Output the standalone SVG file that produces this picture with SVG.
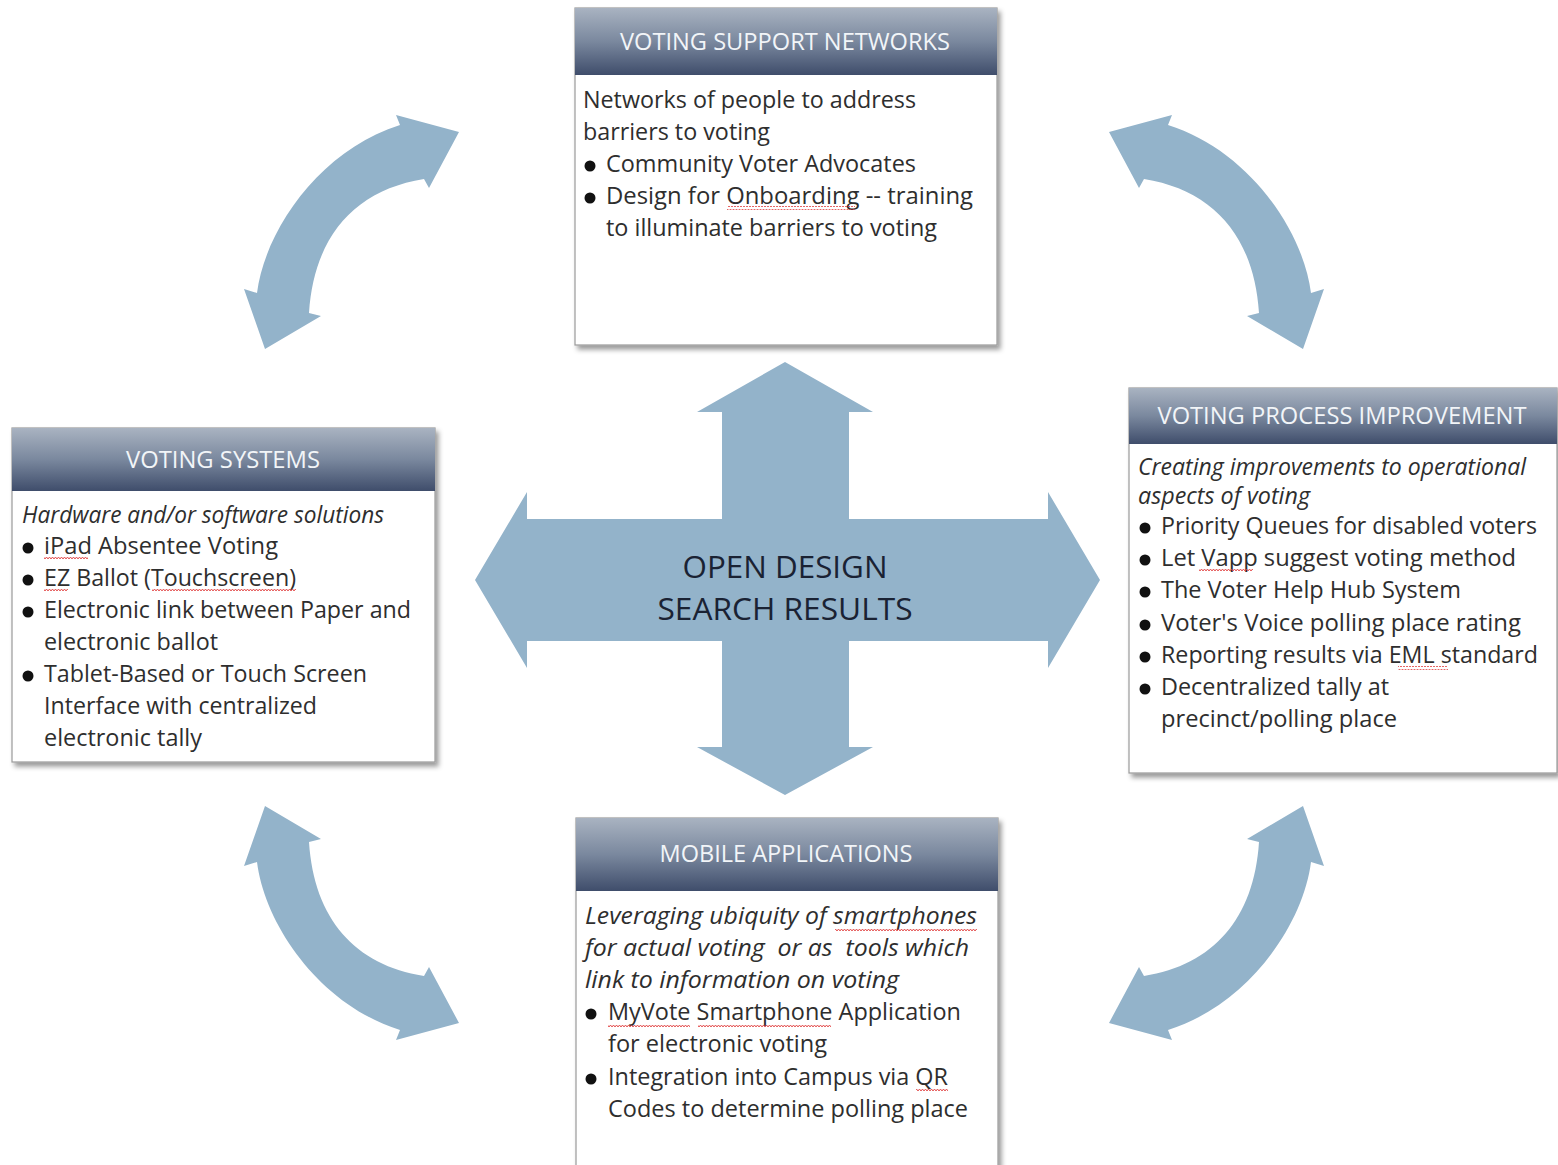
<svg xmlns="http://www.w3.org/2000/svg" width="1558" height="1165" viewBox="0 0 1558 1165">
<defs>
<linearGradient id="hdr" x1="0" y1="0" x2="0" y2="1">
<stop offset="0" stop-color="#a9b3c1"/>
<stop offset="0.5" stop-color="#7a889e"/>
<stop offset="1" stop-color="#3f4d6b"/>
</linearGradient>
<filter id="sh" x="-5%" y="-5%" width="112%" height="112%">
<feDropShadow dx="3" dy="4" stdDeviation="2.5" flood-color="#000" flood-opacity="0.4"/>
</filter>
<pattern id="sq" width="6" height="4" patternUnits="userSpaceOnUse">
<polyline points="0,3 1.5,1 3,3 4.5,1 6,3" fill="none" stroke="#e04040" stroke-width="0.9"/>
</pattern>
<path id="carrow" d="M 265,349 L 244,289 L 257,293 C 265,230 320,150 400,125 L 396,115 L 459,132 L 429,188 L 424,179 C 355,190 314,236 309,313 L 321,316 Z"/>
</defs>
<style>
.box{fill:#fff;stroke:#9a9a9a;stroke-width:1.2}
.hd{fill:url(#hdr)}
.ht{font-family:"Open Sans","Noto Sans",sans-serif;font-size:23px;fill:#f2f5f8;text-anchor:middle}
.t{font-family:"Open Sans","Noto Sans",sans-serif;font-size:23px;fill:#2e2e2e;white-space:pre}
.i{font-style:italic}
.arr{fill:#93b3ca}
.ct{font-family:"Open Sans","Noto Sans",sans-serif;font-size:31px;fill:#1a2233;text-anchor:middle}
.sq{fill:url(#sq)}
.b{fill:#111}
</style>
<rect width="1558" height="1165" fill="#fff"/>

<g id="connectors">
<use href="#carrow" class="arr"/>
<use href="#carrow" class="arr" transform="translate(1568,0) scale(-1,1)"/>
<use href="#carrow" class="arr" transform="translate(0,1155) scale(1,-1)"/>
<use href="#carrow" class="arr" transform="translate(1568,1155) scale(-1,-1)"/>
</g>

<g id="center">
<path class="arr" d="M 785,362 L 873,412 L 849,412 L 849,519 L 1048,519 L 1048,492 L 1100,580 L 1048,668 L 1048,641 L 849,641 L 849,747 L 873,747 L 785,795 L 697,747 L 722,747 L 722,641 L 527,641 L 527,668 L 475,580 L 527,492 L 527,519 L 722,519 L 722,412 L 697,412 Z"/>
<text class="ct" x="785" y="578" textLength="205" lengthAdjust="spacingAndGlyphs">OPEN DESIGN</text>
<text class="ct" x="785" y="620" textLength="255" lengthAdjust="spacingAndGlyphs">SEARCH RESULTS</text>
</g>

<g id="voting-support-networks">
<rect class="box" x="575" y="8" width="422" height="337" filter="url(#sh)"/>
<rect class="hd" x="575" y="8" width="422" height="67"/>
<text class="ht" x="785" y="50" textLength="330" lengthAdjust="spacingAndGlyphs">VOTING SUPPORT NETWORKS</text>
<text class="t" x="583" y="108" textLength="333" lengthAdjust="spacingAndGlyphs">Networks of people to address</text>
<text class="t" x="583" y="140" textLength="187" lengthAdjust="spacingAndGlyphs">barriers to voting</text>
<circle class="b" cx="590" cy="166" r="5.5"/>
<text class="t" x="606" y="172" textLength="310" lengthAdjust="spacingAndGlyphs">Community Voter Advocates</text>
<circle class="b" cx="590" cy="198" r="5.5"/>
<text class="t" x="606" y="204" textLength="367" lengthAdjust="spacingAndGlyphs">Design for Onboarding -- training</text>
<text class="t" x="606" y="236" textLength="331" lengthAdjust="spacingAndGlyphs">to illuminate barriers to voting</text>
<rect class="sq" x="727" y="206" width="128" height="4"/>
</g>

<g id="voting-systems">
<rect class="box" x="12" y="428" width="423" height="334" filter="url(#sh)"/>
<rect class="hd" x="12" y="428" width="423" height="63"/>
<text class="ht" x="223" y="468" textLength="194" lengthAdjust="spacingAndGlyphs">VOTING SYSTEMS</text>
<text class="t i" x="22" y="523" textLength="362" lengthAdjust="spacingAndGlyphs">Hardware and/or software solutions</text>
<circle class="b" cx="28" cy="548" r="5.5"/>
<text class="t" x="44" y="554" textLength="234" lengthAdjust="spacingAndGlyphs">iPad Absentee Voting</text>
<circle class="b" cx="28" cy="580" r="5.5"/>
<text class="t" x="44" y="586" textLength="252" lengthAdjust="spacingAndGlyphs">EZ Ballot (Touchscreen)</text>
<circle class="b" cx="28" cy="612" r="5.5"/>
<text class="t" x="44" y="618" textLength="367" lengthAdjust="spacingAndGlyphs">Electronic link between Paper and</text>
<text class="t" x="44" y="650" textLength="174" lengthAdjust="spacingAndGlyphs">electronic ballot</text>
<circle class="b" cx="28" cy="676" r="5.5"/>
<text class="t" x="44" y="682" textLength="323" lengthAdjust="spacingAndGlyphs">Tablet-Based or Touch Screen</text>
<text class="t" x="44" y="714" textLength="273" lengthAdjust="spacingAndGlyphs">Interface with centralized</text>
<text class="t" x="44" y="746" textLength="158" lengthAdjust="spacingAndGlyphs">electronic tally</text>
<rect class="sq" x="44" y="557" width="44" height="4"/>
<rect class="sq" x="44" y="589" width="24" height="4"/>
<rect class="sq" x="152" y="589" width="144" height="4"/>
</g>

<g id="voting-process-improvement">
<rect class="box" x="1129" y="388" width="428" height="385" filter="url(#sh)"/>
<rect class="hd" x="1129" y="388" width="428" height="56"/>
<text class="ht" x="1342" y="424" textLength="369" lengthAdjust="spacingAndGlyphs">VOTING PROCESS IMPROVEMENT</text>
<text class="t i" x="1138" y="475" textLength="388" lengthAdjust="spacingAndGlyphs">Creating improvements to operational</text>
<text class="t i" x="1138" y="504" textLength="172" lengthAdjust="spacingAndGlyphs">aspects of voting</text>
<circle class="b" cx="1145" cy="528" r="5.5"/>
<text class="t" x="1161" y="534" textLength="376" lengthAdjust="spacingAndGlyphs">Priority Queues for disabled voters</text>
<circle class="b" cx="1145" cy="560" r="5.5"/>
<text class="t" x="1161" y="566" textLength="355" lengthAdjust="spacingAndGlyphs">Let Vapp suggest voting method</text>
<circle class="b" cx="1145" cy="592" r="5.5"/>
<text class="t" x="1161" y="598" textLength="300" lengthAdjust="spacingAndGlyphs">The Voter Help Hub System</text>
<circle class="b" cx="1145" cy="625" r="5.5"/>
<text class="t" x="1161" y="631" textLength="360" lengthAdjust="spacingAndGlyphs">Voter's Voice polling place rating</text>
<circle class="b" cx="1145" cy="657" r="5.5"/>
<text class="t" x="1161" y="663" textLength="377" lengthAdjust="spacingAndGlyphs">Reporting results via EML standard</text>
<circle class="b" cx="1145" cy="689" r="5.5"/>
<text class="t" x="1161" y="695" textLength="228" lengthAdjust="spacingAndGlyphs">Decentralized tally at</text>
<text class="t" x="1161" y="727" textLength="236" lengthAdjust="spacingAndGlyphs">precinct/polling place</text>
<rect class="sq" x="1199" y="569" width="54" height="4"/>
<rect class="sq" x="1398" y="666" width="50" height="4"/>
</g>

<g id="mobile-applications">
<rect class="box" x="576" y="818" width="422" height="360" filter="url(#sh)"/>
<rect class="hd" x="576" y="818" width="422" height="73"/>
<text class="ht" x="786" y="862" textLength="253" lengthAdjust="spacingAndGlyphs">MOBILE APPLICATIONS</text>
<text class="t i" x="585" y="924" textLength="392" lengthAdjust="spacingAndGlyphs">Leveraging ubiquity of smartphones</text>
<text class="t i" x="585" y="956" textLength="384" lengthAdjust="spacingAndGlyphs" xml:space="preserve">for actual voting  or as  tools which</text>
<text class="t i" x="585" y="988" textLength="314" lengthAdjust="spacingAndGlyphs">link to information on voting</text>
<circle class="b" cx="591" cy="1014" r="5.5"/>
<text class="t" x="608" y="1020" textLength="353" lengthAdjust="spacingAndGlyphs">MyVote Smartphone Application</text>
<text class="t" x="608" y="1052" textLength="219" lengthAdjust="spacingAndGlyphs">for electronic voting</text>
<circle class="b" cx="591" cy="1079" r="5.5"/>
<text class="t" x="608" y="1085" textLength="340" lengthAdjust="spacingAndGlyphs">Integration into Campus via QR</text>
<text class="t" x="608" y="1117" textLength="360" lengthAdjust="spacingAndGlyphs">Codes to determine polling place</text>
<rect class="sq" x="835" y="927" width="142" height="4"/>
<rect class="sq" x="608" y="1023" width="82" height="4"/>
<rect class="sq" x="698" y="1023" width="133" height="4"/>
<rect class="sq" x="916" y="1088" width="32" height="4"/>
</g>
</svg>
